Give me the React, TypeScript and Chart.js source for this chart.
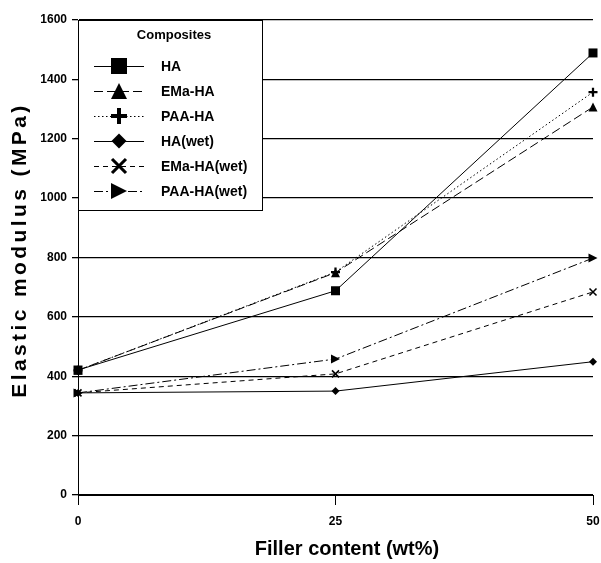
import React, { useEffect, useRef } from "react";
import { Chart, registerables } from "chart.js";

Chart.register(...registerables);

const fillerContent = [0, 25, 50];
const seriesNames = ["HA", "EMa-HA", "PAA-HA", "HA(wet)", "EMa-HA(wet)", "PAA-HA(wet)"];
const haValues = [421, 688, 1489];
const emaHaValues = [420, 749, 1307];
const paaHaValues = [420, 751, 1357];
const haWetValues = [344, 350, 449];
const emaHaWetValues = [344, 408, 684];
const paaHaWetValues = [344, 458, 798];
const yTicks = [0, 200, 400, 600, 800, 1000, 1200, 1400, 1600];
const xTicks = [0, 25, 50];

const FONT = "'Liberation Sans', Arial, sans-serif";

type Marker = "square" | "triangle" | "plus" | "diamond" | "x" | "triRight";

const seriesStyle: { marker: Marker; dash: number[] }[] = [
  { marker: "square", dash: [] },
  { marker: "triangle", dash: [9, 4] },
  { marker: "plus", dash: [1.5, 2.5] },
  { marker: "diamond", dash: [] },
  { marker: "x", dash: [5, 4] },
  { marker: "triRight", dash: [9, 3, 2, 3] },
];

function drawMarker(ctx: CanvasRenderingContext2D, m: Marker, x: number, y: number, s: number) {
  ctx.save();
  ctx.fillStyle = "#000";
  ctx.strokeStyle = "#000";
  ctx.setLineDash([]);
  ctx.beginPath();
  const h = s / 2;
  if (m === "square") {
    ctx.rect(x - h, y - h, s, s);
    ctx.fill();
  } else if (m === "triangle") {
    ctx.moveTo(x, y - h);
    ctx.lineTo(x + h, y + h);
    ctx.lineTo(x - h, y + h);
    ctx.closePath();
    ctx.fill();
  } else if (m === "triRight") {
    ctx.moveTo(x + h, y);
    ctx.lineTo(x - h, y - h);
    ctx.lineTo(x - h, y + h);
    ctx.closePath();
    ctx.fill();
  } else if (m === "diamond") {
    ctx.moveTo(x, y - h);
    ctx.lineTo(x + h, y);
    ctx.lineTo(x, y + h);
    ctx.lineTo(x - h, y);
    ctx.closePath();
    ctx.fill();
  } else if (m === "plus") {
    ctx.lineWidth = s / 4;
    ctx.moveTo(x - h, y);
    ctx.lineTo(x + h, y);
    ctx.moveTo(x, y - h);
    ctx.lineTo(x, y + h);
    ctx.stroke();
  } else if (m === "x") {
    ctx.lineWidth = s / 4.5;
    ctx.moveTo(x - h, y - h);
    ctx.lineTo(x + h, y + h);
    ctx.moveTo(x + h, y - h);
    ctx.lineTo(x - h, y + h);
    ctx.stroke();
  }
  ctx.restore();
}

const overlayPlugin = {
  id: "overlay",
  afterDraw(chart: any) {
    const ctx: CanvasRenderingContext2D = chart.ctx;
    // axis titles
    ctx.save();
    ctx.fillStyle = "#000";
    ctx.font = `bold 20px ${FONT}`;
    ctx.textAlign = "center";
    ctx.textBaseline = "middle";
    ctx.fillText("Filler content (wt%)", 347, 549);
    ctx.restore();

    ctx.save();
    ctx.fillStyle = "#000";
    ctx.translate(20, 250);
    ctx.rotate(-Math.PI / 2);
    ctx.font = `bold 21px ${FONT}`;
    (ctx as any).letterSpacing = "3.4px";
    ctx.textAlign = "center";
    ctx.textBaseline = "middle";
    ctx.fillText("Elastic modulus (MPa)", 0, 0);
    ctx.restore();

    // legend
    const bx = 78.5, by = 20.5, bw = 184, bh = 190;
    ctx.save();
    ctx.fillStyle = "#fff";
    ctx.fillRect(bx, by, bw, bh);
    ctx.strokeStyle = "#000";
    ctx.lineWidth = 1;
    ctx.strokeRect(bx, by, bw, bh);
    ctx.fillStyle = "#000";
    ctx.font = `bold 13px ${FONT}`;
    ctx.textAlign = "center";
    ctx.textBaseline = "middle";
    ctx.fillText("Composites", 174, 35);
    ctx.font = `bold 14px ${FONT}`;
    ctx.textAlign = "left";
    const legendSizes = [16, 16, 16, 15, 14, 16];
    seriesNames.forEach((name, i) => {
      const y = 66 + i * 25;
      ctx.save();
      ctx.strokeStyle = "#000";
      ctx.lineWidth = 1;
      ctx.setLineDash(seriesStyle[i].dash);
      ctx.beginPath();
      ctx.moveTo(94, y + 0.5);
      ctx.lineTo(144, y + 0.5);
      ctx.stroke();
      ctx.restore();
      drawMarker(ctx, seriesStyle[i].marker, 119, y, legendSizes[i]);
      ctx.fillText(name, 161, y + 1);
    });
    ctx.restore();
  },
};

const markerPlugin = {
  id: "markers",
  afterDatasetsDraw(chart: any) {
    const ctx = chart.ctx;
    const sizes = [9, 9, 9, 8, 7, 9];
    chart.data.datasets.forEach((ds: any, i: number) => {
      const meta = chart.getDatasetMeta(i);
      meta.data.forEach((pt: any) => {
        drawMarker(ctx, seriesStyle[i].marker, pt.x, pt.y, sizes[i]);
      });
    });
  },
};

export default function App() {
  const ref = useRef<HTMLCanvasElement>(null);
  useEffect(() => {
    if (!ref.current) return;
    const allValues = [haValues, emaHaValues, paaHaValues, haWetValues, emaHaWetValues, paaHaWetValues];
    const chart = new Chart(ref.current, {
      type: "line",
      data: {
        datasets: allValues.map((vals, i) => ({
          label: seriesNames[i],
          data: fillerContent.map((x, j) => ({ x, y: vals[j] })),
          borderColor: "#000",
          borderWidth: 1,
          borderDash: seriesStyle[i].dash,
          pointRadius: 0,
          pointHoverRadius: 0,
          fill: false,
          tension: 0,
        })),
      },
      options: {
        animation: false,
        responsive: false,
        events: [],
        layout: { padding: { top: 20, right: 8, left: 0, bottom: 0 } },
        plugins: { legend: { display: false }, tooltip: { enabled: false } },
        scales: {
          x: {
            type: "linear",
            min: 0,
            max: 50,
            afterFit: (s: any) => { s.height = 68; s.paddingRight = 0; s.paddingLeft = 0; },
            afterBuildTicks: (s: any) => { s.ticks = xTicks.map((v) => ({ value: v })); },
            border: { color: "#000", width: 1 },
            grid: { drawOnChartArea: false, drawTicks: true, tickLength: 10, tickColor: "#000", color: "#000" },
            ticks: { color: "#000", font: { family: FONT, size: 12, weight: "bold" }, padding: 9, maxRotation: 0, callback: (v: any) => String(v) },
            title: { display: false },
          },
          y: {
            type: "linear",
            min: 0,
            max: 1600,
            afterFit: (s: any) => { s.width = 78; s.paddingTop = 0; s.paddingBottom = 0; },
            afterBuildTicks: (s: any) => { s.ticks = yTicks.map((v) => ({ value: v })); },
            border: { color: "#000", width: 1 },
            grid: { color: "#000", lineWidth: 1.3, tickLength: 6, tickColor: "#000" },
            ticks: { color: "#000", font: { family: FONT, size: 12, weight: "bold" }, padding: 5, callback: (v: any) => String(v) },
            title: { display: false },
          },
        },
      },
      plugins: [markerPlugin, overlayPlugin],
    } as any);
    return () => chart.destroy();
  }, []);
  return (
    <div style={{ position: "absolute", left: 0, top: 0, width: 601, height: 563, background: "#fff" }}>
      <canvas ref={ref} width={601} height={563} style={{ width: 601, height: 563, display: "block" }} />
    </div>
  );
}
